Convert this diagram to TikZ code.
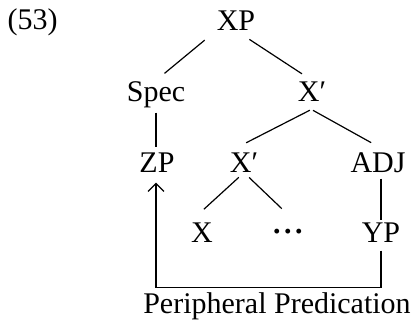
\documentclass[tikz,border=0pt]{standalone}
\usepackage{amsmath}
\usepackage{fontspec}
\setmainfont{Liberation Serif}
\usetikzlibrary{arrows.meta}

\begin{document}
\begin{tikzpicture}[x=1pt,y=-1pt,line width=1.2pt,font=\fontsize{30}{34}\selectfont,
  cat/.style={anchor=base,inner sep=0pt,text height=20pt,text depth=0pt}]
\useasboundingbox (0,0) rectangle (415,322);
% example number
\node[anchor=base west,inner sep=0pt] (num) at (7,29) {(53)};
% rows of the tree
\node[cat] (xp) at (236,30) {XP};
\node[cat] (spec) at (156,101) {Spec};
\node[cat] (xb1) at (312,101) {X′};
\node[cat] (zp) at (157,172) {ZP};
\node[cat] (xb2) at (244,172) {X′};
\node[cat] (adj) at (378,172) {ADJ};
\node[cat] (x) at (202,242) {X};
\node[cat] (dots) at (288,241) {\textbf{·\kern1pt·\kern1pt·}};
\node[cat] (yp) at (381,242) {YP};
\node[cat] (pp) at (277,313) {Peripheral Predication};
% branches
\draw[shorten <=15pt,shorten >=11pt] (xp.south west) -- (spec.north);
\draw[shorten <=16pt,shorten >=12pt] (xp.south) -- (xb1.north);
\draw[shorten <=11pt,shorten >=4pt] (spec.south) -- (spec.south |- zp.north);
\draw[shorten <=19pt,shorten >=19pt] (xb1.south east) -- (xb2.north west);
\draw[shorten <=18pt,shorten >=18pt] (xb1.south west) -- (adj.50);
\draw[shorten <=7pt,shorten >=18pt] (xb2.south) -- (x.north west);
\draw[shorten <=7pt,shorten >=17pt] (xb2.south) -- (dots.60);
\draw[shorten <=6pt,shorten >=1pt] (yp.north |- adj.south) -- (yp.north);
% predication arrow
\draw[-{Straight Barb[length=8pt,width=16pt]},shorten <=8pt,shorten >=10pt]
  (yp.south) -- ++(0,45) -| (spec.south |- zp.south);
\end{tikzpicture}
\end{document}
